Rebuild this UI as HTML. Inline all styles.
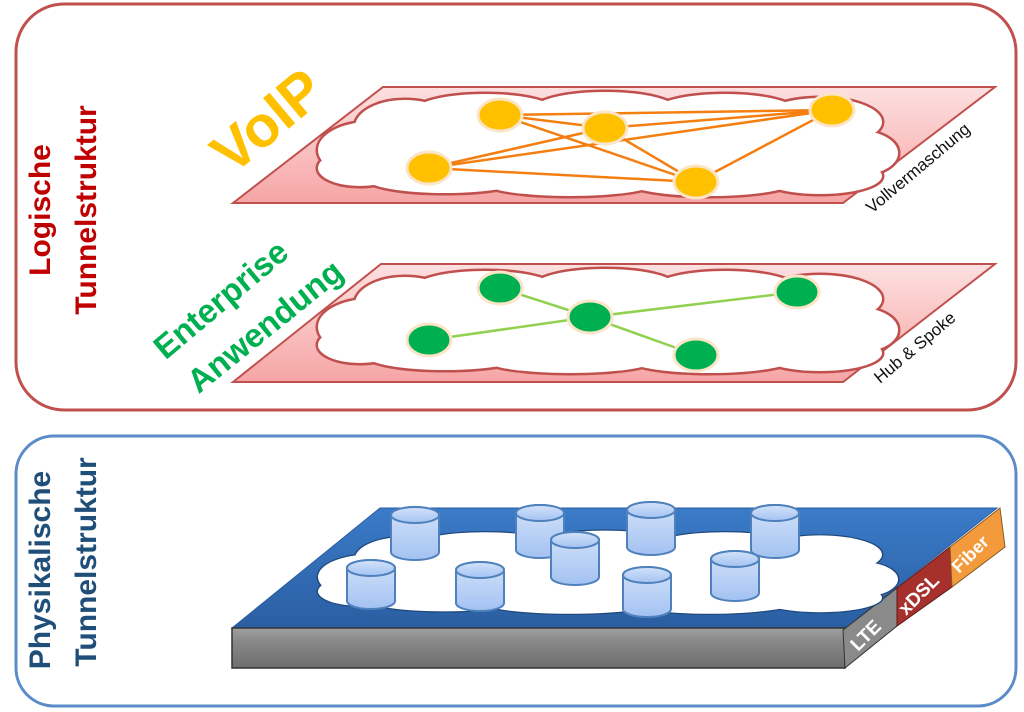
<!DOCTYPE html>
<html><head><meta charset="utf-8"><style>
html,body{margin:0;padding:0;background:#fff;width:1024px;height:712px;overflow:hidden}
svg{display:block}
text{font-family:"Liberation Sans",sans-serif;font-weight:bold}
</style></head><body>
<svg width="1024" height="712" viewBox="0 0 1024 712" xmlns="http://www.w3.org/2000/svg">
<defs>
<linearGradient id="pk" x1="0" y1="0" x2="0" y2="1"><stop offset="0" stop-color="#fde0e0"/><stop offset="1" stop-color="#f6a5a5"/></linearGradient>
<linearGradient id="bl" x1="0" y1="0" x2="0" y2="1"><stop offset="0" stop-color="#3b7bc8"/><stop offset="1" stop-color="#2a5ea2"/></linearGradient>
<linearGradient id="gr" x1="0" y1="0" x2="0" y2="1"><stop offset="0" stop-color="#a0a0a0"/><stop offset="0.3" stop-color="#8a8a8a"/><stop offset="1" stop-color="#6e6e6e"/></linearGradient>
<linearGradient id="cy" x1="0" y1="0" x2="0" y2="1"><stop offset="0" stop-color="#d4e3f9"/><stop offset="1" stop-color="#a3c2f2"/></linearGradient>
<g id="cloudS">
<ellipse cx="370" cy="150" rx="52" ry="28"/><ellipse cx="405" cy="127" rx="50" ry="27"/>
<ellipse cx="485" cy="112" rx="72" ry="18"/><ellipse cx="605" cy="110" rx="72" ry="18"/>
<ellipse cx="725" cy="112" rx="72" ry="18"/><ellipse cx="820" cy="122" rx="62" ry="24"/>
<ellipse cx="860" cy="153" rx="38" ry="22"/><ellipse cx="820" cy="176" rx="62" ry="18"/>
<ellipse cx="710" cy="181" rx="85" ry="15"/><ellipse cx="570" cy="183" rx="85" ry="13"/>
<ellipse cx="445" cy="178" rx="80" ry="15"/><ellipse cx="360" cy="168" rx="42" ry="18"/>
<ellipse cx="600" cy="148" rx="250" ry="38"/>
</g>
</defs>

<rect x="16" y="4" width="1000" height="406" rx="48" fill="#fff" stroke="#c0504d" stroke-width="3"/>
<rect x="16" y="436" width="1000" height="270" rx="38" fill="#fff" stroke="#5b8bc9" stroke-width="3"/>

<text transform="translate(50,210) rotate(-90)" text-anchor="middle" font-size="30" fill="#c00000">Logische</text>
<text transform="translate(96,210) rotate(-90)" text-anchor="middle" font-size="30" fill="#c00000">Tunnelstruktur</text>
<text transform="translate(50,570) rotate(-90)" text-anchor="middle" font-size="30" fill="#1f4e79">Physikalische</text>
<text transform="translate(96,562) rotate(-90)" text-anchor="middle" font-size="30" fill="#1f4e79">Tunnelstruktur</text>

<!-- top plane -->
<polygon points="233,203 383,87 995,87 843,203" fill="url(#pk)" stroke="#c0504d" stroke-width="2"/>
<g fill="#fff" stroke="#c0504d" stroke-width="5"><use href="#cloudS"/></g>
<g fill="#fff" stroke="none"><use href="#cloudS"/></g>
<g stroke="#f47f10" stroke-width="2.5">
<line x1="500" y1="115" x2="605" y2="128"/><line x1="500" y1="115" x2="832" y2="110"/>
<line x1="500" y1="115" x2="696" y2="182"/><line x1="605" y1="128" x2="832" y2="110"/>
<line x1="605" y1="128" x2="429" y2="168"/><line x1="605" y1="128" x2="696" y2="182"/>
<line x1="832" y1="110" x2="429" y2="168"/><line x1="832" y1="110" x2="696" y2="182"/>
<line x1="429" y1="168" x2="696" y2="182"/>
</g>
<g fill="#ffc000" stroke="#fbe5c8" stroke-width="3">
<ellipse cx="500" cy="115" rx="22" ry="16"/><ellipse cx="605" cy="128" rx="22" ry="16"/>
<ellipse cx="832" cy="110" rx="22" ry="16"/><ellipse cx="429" cy="168" rx="22" ry="16"/>
<ellipse cx="696" cy="182" rx="22" ry="16"/>
</g>
<text transform="translate(872,214) rotate(-40)" font-size="17" style="font-weight:normal" fill="#111">Vollvermaschung</text>
<text transform="translate(280,136) rotate(-40)" text-anchor="middle" font-size="58" fill="#ffc000">VoIP</text>

<!-- middle plane -->
<polygon points="233,382 381,264 995,264 843,382" fill="url(#pk)" stroke="#c0504d" stroke-width="2"/>
<g transform="translate(0,177)">
<g fill="#fff" stroke="#c0504d" stroke-width="5"><use href="#cloudS"/></g>
<g fill="#fff" stroke="none"><use href="#cloudS"/></g>
</g>
<g stroke="#92d050" stroke-width="2.5">
<line x1="590" y1="317" x2="500" y2="288"/><line x1="590" y1="317" x2="797" y2="292"/>
<line x1="590" y1="317" x2="429" y2="340"/><line x1="590" y1="317" x2="696" y2="355"/>
</g>
<g fill="#00b050" stroke="#fbe5c8" stroke-width="3">
<ellipse cx="500" cy="288" rx="22" ry="16"/><ellipse cx="797" cy="292" rx="22" ry="16"/>
<ellipse cx="590" cy="317" rx="22" ry="16"/><ellipse cx="429" cy="340" rx="22" ry="16"/>
<ellipse cx="696" cy="355" rx="22" ry="16"/>
</g>
<text transform="translate(880,384) rotate(-40)" font-size="17" style="font-weight:normal" fill="#111">Hub &amp; Spoke</text>
<text transform="translate(228,308) rotate(-40)" text-anchor="middle" font-size="33" fill="#00b050">Enterprise</text>
<text transform="translate(272,335) rotate(-39)" text-anchor="middle" font-size="33" fill="#00b050">Anwendung</text>

<!-- bottom plane -->
<polygon points="232,628 380,508 997,508 845,628" fill="url(#bl)" stroke="#2a5ea2" stroke-width="1"/>
<rect x="232" y="628" width="613" height="40" fill="url(#gr)" stroke="#333" stroke-width="1.5"/>
<polygon points="843,630 897,588 897,626 845,668" fill="#8a8a8a" stroke="#333" stroke-width="1"/>
<polygon points="897,588 950,547 952,587 897,626" fill="#a5302c" stroke="#5a1a18" stroke-width="1"/>
<polygon points="950,547 1000,508 1005,547 952,587" fill="#f39a3c" stroke="#8a5a20" stroke-width="1"/>
<text transform="translate(858,652) rotate(-45)" font-size="19" fill="#fff">LTE</text>
<text transform="translate(906,616) rotate(-45)" font-size="19" fill="#fff">xDSL</text>
<text transform="translate(959,574) rotate(-45)" font-size="18" fill="#fff">Fiber</text>
<g transform="translate(0,457) scale(1,0.8)">
<g fill="#fff" stroke="#1f497d" stroke-width="3"><use href="#cloudS"/></g>
<g fill="#fff" stroke="none"><use href="#cloudS"/></g>
</g>
<g fill="url(#cy)" stroke="#4f81bd" stroke-width="2">
<path d="M391,515 v37 a24,8 0 0 0 48,0 v-37 a24,8 0 0 0 -48,0z"/><ellipse cx="415" cy="515" rx="24" ry="8"/>
<path d="M516,513 v37 a24,8 0 0 0 48,0 v-37 a24,8 0 0 0 -48,0z"/><ellipse cx="540" cy="513" rx="24" ry="8"/>
<path d="M627,510 v37 a24,8 0 0 0 48,0 v-37 a24,8 0 0 0 -48,0z"/><ellipse cx="651" cy="510" rx="24" ry="8"/>
<path d="M751,513 v37 a24,8 0 0 0 48,0 v-37 a24,8 0 0 0 -48,0z"/><ellipse cx="775" cy="513" rx="24" ry="8"/>
<path d="M551,540 v37 a24,8 0 0 0 48,0 v-37 a24,8 0 0 0 -48,0z"/><ellipse cx="575" cy="540" rx="24" ry="8"/>
<path d="M347,568 v33 a24,8 0 0 0 48,0 v-33 a24,8 0 0 0 -48,0z"/><ellipse cx="371" cy="568" rx="24" ry="8"/>
<path d="M456,570 v33 a24,8 0 0 0 48,0 v-33 a24,8 0 0 0 -48,0z"/><ellipse cx="480" cy="570" rx="24" ry="8"/>
<path d="M623,575 v34 a24,8 0 0 0 48,0 v-34 a24,8 0 0 0 -48,0z"/><ellipse cx="647" cy="575" rx="24" ry="8"/>
<path d="M711,559 v34 a24,8 0 0 0 48,0 v-34 a24,8 0 0 0 -48,0z"/><ellipse cx="735" cy="559" rx="24" ry="8"/>
</g>
</svg>
</body></html>
